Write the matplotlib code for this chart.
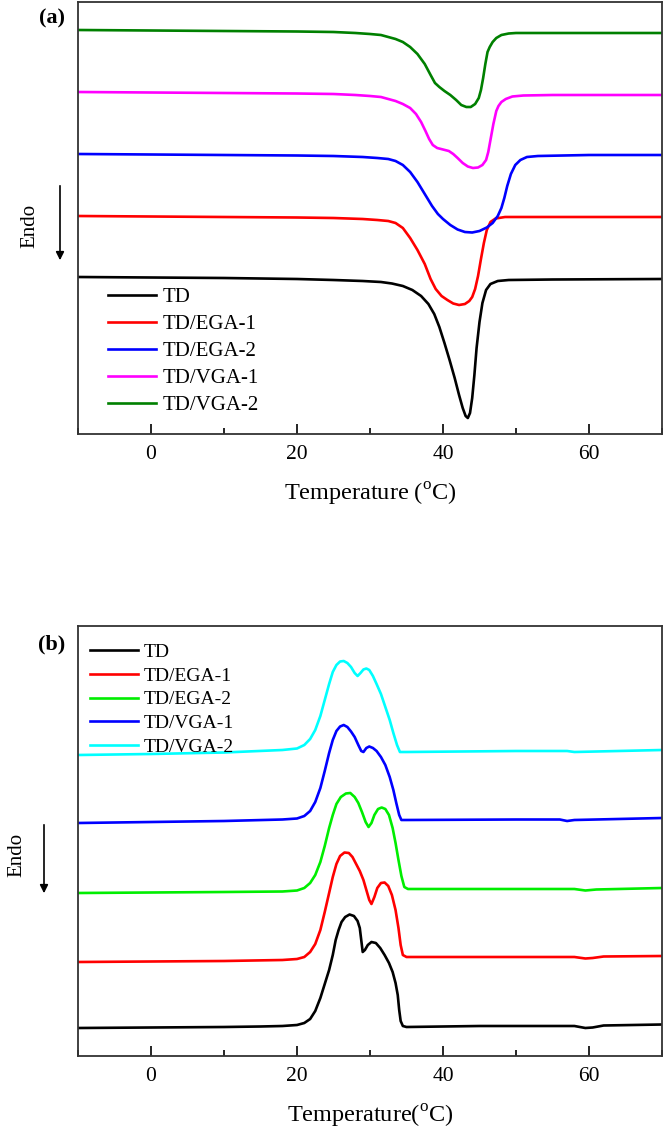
import matplotlib
matplotlib.use("Agg")
import matplotlib.pyplot as plt
from matplotlib.patches import FancyArrowPatch
from matplotlib.ticker import MultipleLocator

plt.rcParams['font.family'] = ['Liberation Serif', 'DejaVu Serif']
plt.rcParams['mathtext.fontset'] = 'custom'
plt.rcParams['mathtext.rm'] = 'Liberation Serif'

# DSC curves, heat flow in arbitrary units (curves stacked, no y scale shown)
# panel (a) - melting
a_labels = ["TD", "TD/EGA-1", "TD/EGA-2", "TD/VGA-1", "TD/VGA-2"]
a_colors = ["black", "#ff0000", "#0000ff", "#ff00ff", "#008000"]

a_td_t = [-10, 0, 10, 20, 25, 29, 31.5, 33, 34.5, 35.8, 37, 38, 38.8, 39.5, 40.2, 40.9, 41.6, 42.2, 42.7,
          43.1, 43.4, 43.7, 44, 44.3, 44.6, 45, 45.4, 45.9, 46.5, 47.5, 49, 55, 70]
a_td_y = [157, 156.5, 156, 155, 154, 153, 152, 150.5, 148, 144, 138, 130, 120, 107, 91, 74, 56, 39, 26,
          18, 16, 21, 36, 59, 86, 112, 131, 144, 150, 153, 154, 154.5, 155]

a_ega1_t = [-10, 0, 10, 20, 25, 29, 31, 32.5, 33.5, 34.5, 35.5, 36.5, 37.5, 38.3, 39, 39.8, 40.6, 41.4,
            42.2, 43, 43.6, 44, 44.4, 44.8, 45.2, 45.6, 46, 46.5, 47.2, 48.5, 55, 70]
a_ega1_y = [218, 217.5, 217, 216.5, 216, 215, 214, 213, 211, 206, 196, 184, 170, 155, 145, 138, 134, 130.5,
            129, 130, 133, 137, 145, 158, 175, 191, 204, 212, 215.5, 217, 217, 217]

a_ega2_t = [-10, 0, 10, 20, 25, 29, 31, 32.5, 33.5, 34.5, 35.5, 36.5, 37.5, 38.5, 39.3, 40, 41, 42, 43,
            44, 45, 46, 46.8, 47.5, 48, 48.4, 48.8, 49.3, 49.9, 50.6, 51.5, 53, 60, 70]
a_ega2_y = [280, 279.5, 279, 278.5, 278, 277, 276, 275, 273, 269, 262, 252, 240, 228, 220, 215, 209, 204.5, 202,
            201.5, 203, 206.5, 211, 218, 226, 236, 248, 260, 269, 274, 277, 278, 279, 279]

a_vga1_t = [-10, 0, 10, 20, 25, 28, 30, 31.5, 32.5, 33.5, 34.5, 35.5, 36.3, 37, 37.6, 38.1, 38.6, 39.2, 40,
            40.8, 41.4, 42, 42.7, 43.4, 44.1, 44.8, 45.4, 45.9, 46.2, 46.5, 46.9, 47.3, 47.6, 48, 48.6,
            49.5, 51, 55, 70]
a_vga1_y = [342, 341.5, 341, 340.5, 340, 339, 338, 337, 335, 333, 330, 326, 320, 312, 303, 295, 289, 286, 284.5,
            283, 280, 276, 271, 267.5, 266, 266.5, 269, 274, 282, 294, 310, 323, 328, 332, 335,
            337.5, 338.5, 339, 339]

a_vga2_t = [-10, 0, 10, 20, 25, 28, 30, 31.5, 32.5, 33.5, 34.5, 35.5, 36.5, 37.5, 38.3, 38.9, 39.5, 40.2,
            41, 41.8, 42.5, 43.2, 43.8, 44.4, 44.9, 45.2, 45.5, 45.8, 46.1, 46.4, 46.8, 47.3, 48, 49,
            50, 55, 70]
a_vga2_y = [404, 403.5, 403, 402.5, 402, 401, 400, 399, 397, 395, 392, 387, 380, 370, 359, 351, 347, 343,
            339, 334, 329, 327, 327, 330, 336, 344, 356, 370, 382, 387, 392, 396, 399, 400.5,
            401, 401, 401]

# panel (b) - crystallization
b_labels = ["TD", "TD/EGA-1", "TD/EGA-2", "TD/VGA-1", "TD/VGA-2"]
b_colors = ["black", "#ff0000", "#00ee00", "#0000ff", "#00ffff"]

b_td_t = [-10, 0, 10, 15, 18, 20, 21, 21.8, 22.5, 23.2, 23.8, 24.4, 24.9, 25.3, 25.7, 26.1, 26.6, 27.2,
          27.8, 28.3, 28.6, 28.8, 29, 29.3, 29.7, 30.2, 30.8, 31.4, 32, 32.6, 33.1, 33.5, 33.8, 34,
          34.2, 34.5, 35, 45, 55, 58, 59.5, 60.5, 62, 70]
b_td_y = [28, 28.5, 29, 29.5, 30, 31, 33, 37, 45, 58, 72, 86, 101, 116, 126, 134, 139, 141.5,
          140, 135, 128, 116, 104, 106, 111, 114, 113, 108, 101, 93, 84, 73, 61, 46,
          35, 30, 29, 30, 30, 30, 28, 28.5, 30.5, 31.5]

b_ega1_t = [-10, 0, 10, 18, 20, 21, 21.8, 22.5, 23.2, 23.8, 24.4, 24.9, 25.4, 25.9, 26.5, 27.1, 27.6,
            28.1, 28.6, 29.1, 29.5, 29.9, 30.2, 30.6, 31, 31.5, 32, 32.5, 33, 33.5, 33.9, 34.2, 34.5,
            35, 45, 58, 59.5, 60.5, 62, 70]
b_ega1_y = [94, 94.5, 95, 96, 97, 99, 104, 112, 126, 144, 163, 179, 192, 200, 203.5, 203, 199,
            192, 185, 176, 166, 156, 152, 159, 168, 173, 173.5, 170, 161, 146, 128, 111, 101,
            99, 99, 99, 97.5, 98, 99.5, 100]

b_ega2_t = [-10, 0, 10, 18, 20, 21, 21.8, 22.5, 23.2, 23.8, 24.4, 24.9, 25.4, 26, 26.7, 27.3, 27.9,
            28.4, 28.9, 29.4, 29.8, 30.2, 30.6, 31.1, 31.6, 32.1, 32.6, 33.1, 33.5, 33.9, 34.3, 34.7,
            35.2, 45, 58, 59.5, 61, 70]
b_ega2_y = [163, 163.5, 164, 164.5, 165.5, 168, 173, 181, 194, 210, 228, 241, 252, 259, 262.5, 263, 259,
            253, 244, 234, 229, 233, 241, 247, 248.5, 247, 241, 228, 213, 196, 180, 169,
            167, 167, 167, 165.5, 166.5, 168]

b_vga1_t = [-10, 0, 10, 18, 20, 21, 21.8, 22.5, 23.2, 23.8, 24.4, 24.9, 25.4, 25.9, 26.4, 26.9, 27.4,
            27.9, 28.4, 28.8, 29.1, 29.5, 29.9, 30.4, 30.9, 31.5, 32.1, 32.7, 33.2, 33.6, 34, 34.3,
            35, 50, 56, 57, 58, 70]
b_vga1_y = [233, 234, 235, 236.5, 237.5, 240, 245, 254, 268, 285, 303, 316, 325, 329.5, 331, 329, 324.5,
            319, 311, 305, 304, 308, 309.5, 308, 305, 299, 291, 279, 266, 253, 241, 236,
            236, 236.5, 236.5, 235, 236, 238]

b_vga2_t = [-10, 0, 10, 18, 20, 21, 21.8, 22.5, 23.2, 23.8, 24.4, 24.9, 25.4, 25.9, 26.4, 26.9, 27.4,
            27.9, 28.3, 28.7, 29.1, 29.5, 29.9, 30.4, 30.9, 31.5, 32.1, 32.7, 33.2, 33.7, 34.1,
            35, 50, 57, 58, 70]
b_vga2_y = [301, 302, 303.5, 306, 307.5, 311, 317, 326, 340, 356, 372, 384, 391, 394.5, 395, 393, 389,
            383, 380, 383, 386.5, 387.5, 386, 380, 372, 362, 349, 336, 323, 311, 304,
            304, 305, 305, 304, 306]

W, H = 666, 1138
fig = plt.figure(figsize=(W / 100, H / 100), dpi=100)

ax_a = fig.add_axes([78 / W, 1 - 434 / H, 584 / W, 432 / H])
ax_b = fig.add_axes([78 / W, 1 - 1056 / H, 584 / W, 430 / H])

a_series = [(a_td_t, a_td_y), (a_ega1_t, a_ega1_y), (a_ega2_t, a_ega2_y),
            (a_vga1_t, a_vga1_y), (a_vga2_t, a_vga2_y)]
b_series = [(b_td_t, b_td_y), (b_ega1_t, b_ega1_y), (b_ega2_t, b_ega2_y),
            (b_vga1_t, b_vga1_y), (b_vga2_t, b_vga2_y)]

for (t, y), lab, c in zip(a_series, a_labels, a_colors):
    ax_a.plot(t, y, color=c, lw=1.9, label=lab, solid_joinstyle='round')
for (t, y), lab, c in zip(b_series, b_labels, b_colors):
    ax_b.plot(t, y, color=c, lw=1.9, label=lab, solid_joinstyle='round')

ax_a.set_ylim(0, 432)
ax_b.set_ylim(0, 430)

for ax in (ax_a, ax_b):
    ax.set_xlim(-10, 70)
    ax.xaxis.set_major_locator(MultipleLocator(20))
    ax.xaxis.set_minor_locator(MultipleLocator(10))
    ax.tick_params(axis='x', which='major', direction='in', length=7, width=1.2, labelsize=15.5, pad=8)
    ax.tick_params(axis='x', which='minor', direction='in', length=4, width=1.2)
    ax.set_yticks([])
    for s in ax.spines.values():
        s.set_linewidth(1.3)
        s.set_color('#333333')

ax_a.set_xlabel(r"Temperature ($^\mathrm{o}$C)", fontsize=17.5, labelpad=12)
ax_b.set_xlabel(r"Temperature($^\mathrm{o}$C)", fontsize=17.5, labelpad=12)

ax_a.legend(loc='lower left', frameon=False, fontsize=15, handlelength=2.3,
            handletextpad=0.3, labelspacing=0.36, bbox_to_anchor=(0.02, 0.0))
ax_b.legend(loc='upper left', frameon=False, fontsize=14, handlelength=2.5,
            handletextpad=0.3, labelspacing=0.31, bbox_to_anchor=(-0.01, 1.0))

fig.text(52 / W, 1 - 18 / H, "(a)", fontsize=16, fontweight='bold', ha='center', va='center')
fig.text(52 / W, 1 - 644 / H, "(b)", fontsize=16, fontweight='bold', ha='center', va='center')

# "Endo" labels with downward arrows
fig.text(30 / W, 1 - 226 / H, "Endo", fontsize=15, rotation=90, ha='center', va='center')
fig.add_artist(FancyArrowPatch((60 / W, 1 - 183 / H), (60 / W, 1 - 263 / H),
               transform=fig.transFigure, arrowstyle='-|>', mutation_scale=12, lw=1.2, color='black'))
fig.text(17 / W, 1 - 855 / H, "Endo", fontsize=15, rotation=90, ha='center', va='center')
fig.add_artist(FancyArrowPatch((44 / W, 1 - 822 / H), (44 / W, 1 - 896 / H),
               transform=fig.transFigure, arrowstyle='-|>', mutation_scale=12, lw=1.2, color='black'))

fig.savefig("out.png", dpi=100)
